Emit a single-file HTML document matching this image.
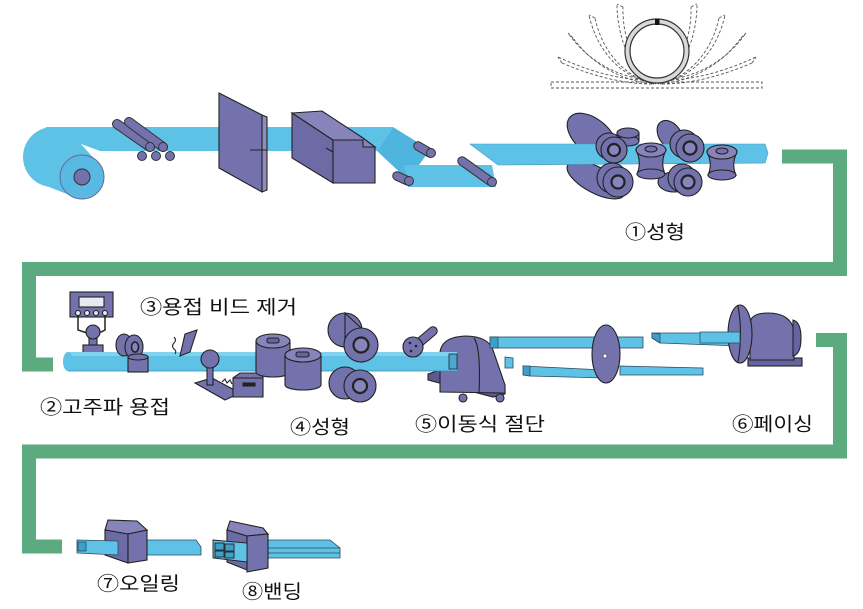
<!DOCTYPE html>
<html><head><meta charset="utf-8"><style>
html,body{margin:0;padding:0;background:#fff;}
svg{display:block;}
text{font-family:"Liberation Sans","Noto Sans CJK KR",sans-serif;font-size:19px;fill:#111;}
</style></head><body>
<svg width="863" height="609" viewBox="0 0 863 609" xmlns="http://www.w3.org/2000/svg">
<rect width="863" height="609" fill="#fff"/>

<!-- green flow lines -->
<g fill="none" stroke="#5bab7f" stroke-width="14" stroke-linejoin="miter">
<polyline points="782,156.5 840,156.5 840,269 29,269 29,364.5 53,364.5"/>
<polyline points="816,340 840,340 840,451.5 29,451.5 29,546.5 62,546.5"/>
</g>

<!-- ring forming diagram -->
<g fill="none" stroke="#555" stroke-width="0.9" stroke-dasharray="3,2">
<rect x="551" y="82" width="211" height="6"/>
<path d="M652,84 C620,84 588,74 562,63"/><path d="M648,80 C616,80 584,69 558,57"/>
<path d="M652,84 C620,80 592,64 573,38"/><path d="M647,80 C615,76 587,60 568,33"/>
<path d="M654,84 C628,78 603,55 595,18"/><path d="M648,82 C622,76 597,52 589,15"/>
<path d="M656,84 C637,74 622,40 623,7"/><path d="M651,83 C632,72 617,38 617,4"/>
<path d="M662,84 C694,84 726,74 752,63"/><path d="M666,80 C698,80 730,69 756,57"/>
<path d="M662,84 C694,80 722,64 741,38"/><path d="M667,80 C699,76 727,60 746,33"/>
<path d="M660,84 C686,78 711,55 719,18"/><path d="M666,82 C692,76 717,52 725,15"/>
<path d="M658,84 C677,74 692,40 691,7"/><path d="M663,83 C682,72 697,38 697,4"/>
<path d="M562,63 L558,57 M573,38 L568,33 M595,18 L589,15 M623,7 L617,4 M752,63 L756,57 M741,38 L746,33 M719,18 L725,15 M691,7 L697,4"/>
</g>
<circle cx="657" cy="51" r="29.5" fill="#fff" stroke="#d9d9d9" stroke-width="5"/>
<circle cx="657" cy="51" r="32" fill="none" stroke="#333" stroke-width="1.2"/>
<circle cx="657" cy="51" r="27" fill="none" stroke="#333" stroke-width="1.2"/>
<rect x="655" y="19" width="4.5" height="6" fill="#111"/>

<!-- TOP ROW -->
<!-- coil -->
<circle cx="53" cy="157" r="30" fill="#5ec2e6"/>
<polygon points="70,132 94.5,159 69.5,195 36,182" fill="#5ec2e6"/>
<polygon points="45,127 393,127 377,151 100,151 70,140" fill="#5ec2e6"/>
<circle cx="82" cy="177" r="22" fill="#58b9e2" stroke="#6a6aa0" stroke-width="1"/>
<circle cx="82" cy="177" r="8" fill="#7472ac" stroke="#333" stroke-width="1"/>
<!-- fold -->
<polygon points="393,127 430,150 408,180 377,151" fill="#4fb5de"/>
<polygon points="404,165 492,165 496,187 408,187" fill="#5ec2e6"/>
<g stroke-linecap="round">
<line x1="418" y1="146" x2="430" y2="153" stroke="#333" stroke-width="9.5"/>
<line x1="418" y1="146" x2="430" y2="153" stroke="#7472ac" stroke-width="7.5"/>
<line x1="397" y1="176" x2="408" y2="181" stroke="#333" stroke-width="9.5"/>
<line x1="397" y1="176" x2="408" y2="181" stroke="#7472ac" stroke-width="7.5"/>
</g>
<circle cx="431" cy="153" r="4.5" fill="#7472ac" stroke="#333"/>
<circle cx="409" cy="181" r="4.5" fill="#7472ac" stroke="#333"/>

<!-- rollers behind upper strip -->
<g stroke="#222" stroke-width="1.1" fill="#7472ac">
<ellipse cx="596" cy="180" rx="32" ry="13" transform="rotate(28 596 180)"/>
<ellipse cx="592" cy="136" rx="29" ry="17" transform="rotate(40 592 136)"/>
<ellipse cx="670" cy="135" rx="16" ry="11" transform="rotate(55 670 135)"/>
<ellipse cx="674" cy="182" rx="16" ry="10"/>
</g>

<!-- upper strip -->
<polygon points="470,144 765,144 768,153 765,163 498,165" fill="#5ec2e6" stroke="#3f98c0" stroke-width="0.6"/>
<g stroke-linecap="round">
<line x1="462" y1="161" x2="490" y2="181" stroke="#333" stroke-width="9.5"/>
<line x1="462" y1="161" x2="490" y2="181" stroke="#7472ac" stroke-width="7.5"/>
</g>
<circle cx="492" cy="182" r="4.5" fill="#7472ac" stroke="#333"/>

<!-- pinch rollers -->
<g stroke-linecap="round">
<line x1="117" y1="124" x2="150" y2="147" stroke="#333" stroke-width="10"/>
<line x1="117" y1="124" x2="150" y2="147" stroke="#7472ac" stroke-width="8"/>
<line x1="129" y1="122" x2="163" y2="147" stroke="#333" stroke-width="10"/>
<line x1="129" y1="122" x2="163" y2="147" stroke="#7472ac" stroke-width="8"/>
</g>
<g fill="#7472ac" stroke="#333">
<circle cx="150" cy="147" r="4.5"/><circle cx="163" cy="147" r="4.5"/>
<circle cx="142" cy="156" r="4.5"/><circle cx="156" cy="156" r="4.5"/><circle cx="170" cy="156" r="4.5"/>
</g>

<!-- shear plate -->
<g stroke="#222" stroke-width="1.1">
<polygon points="219,93 262,115 262,192 219,168" fill="#7472ac"/>
<polygon points="262,115 267,117 267,190 262,192" fill="#8f8dc0"/>
<line x1="250" y1="150" x2="267" y2="150"/>
</g>

<!-- block -->
<g stroke="#222" stroke-width="1.1">
<polygon points="292,113 333,140 333,183 292,158" fill="#6d6ba6"/>
<polygon points="292,113 322,111 363,138 375,147 333,147 333,140" fill="#8684bb"/>
<polygon points="333,140 363,140 363,147 375,147 375,183 333,183" fill="#7472ac"/>
<line x1="326" y1="148" x2="333" y2="152"/>
</g>

<!-- forming roller faces -->
<g stroke="#222" stroke-width="1.1" fill="#7472ac">
<!-- small roller -->
<rect x="617" y="133" width="22" height="8"/>
<ellipse cx="628" cy="141" rx="11" ry="5"/>
<ellipse cx="628" cy="133" rx="11" ry="5"/>
<!-- upper-left face -->
<circle cx="609" cy="146" r="13"/>
<circle cx="614" cy="150" r="13"/>
<circle cx="614" cy="150" r="6" fill="#8684bb" stroke-width="2.2"/>
<!-- lower-left face -->
<circle cx="612" cy="178" r="15"/>
<circle cx="618" cy="182" r="15"/>
<circle cx="618" cy="182" r="6.5" fill="#8684bb" stroke-width="2.2"/>
<!-- spool A -->
<path d="M636,150 Q642,162 637,174 L665,174 Q660,162 666,150 Z"/>
<ellipse cx="651" cy="174" rx="14" ry="5"/>
<ellipse cx="651" cy="150" rx="15" ry="7" fill="#8684bb"/>
<ellipse cx="651" cy="149" rx="6" ry="3"/>
<!-- upper-right face -->
<circle cx="684" cy="144" r="14"/>
<circle cx="690" cy="148" r="14"/>
<circle cx="690" cy="148" r="6.5" fill="#8684bb" stroke-width="2.2"/>
<!-- lower-right face -->
<circle cx="682" cy="178" r="14"/>
<circle cx="688" cy="182" r="14"/>
<circle cx="688" cy="182" r="6.5" fill="#8684bb" stroke-width="2.2"/>
<!-- spool B -->
<path d="M707,152 Q713,164 708,175 L736,175 Q731,164 737,152 Z"/>
<ellipse cx="722" cy="175" rx="14" ry="5"/>
<ellipse cx="722" cy="152" rx="15" ry="7" fill="#8684bb"/>
<ellipse cx="722" cy="151" rx="6" ry="3"/>
</g>

<text x="625" y="238.5" textLength="60" lengthAdjust="spacingAndGlyphs">①성형</text>

<!-- MIDDLE ROW -->
<!-- welder control box -->
<g stroke="#222" stroke-width="1.1">
<rect x="70" y="292" width="43" height="25" fill="#7472ac"/>
<rect x="79" y="297" width="25" height="10" fill="#e9e9f2"/>
<g fill="#e9e9f2"><circle cx="78" cy="313" r="2.5"/><circle cx="87" cy="313" r="2.5"/><circle cx="96" cy="313" r="2.5"/><circle cx="105" cy="313" r="2.5"/></g>
<polyline points="78,315 78,330 87,333" fill="none" stroke-width="1.5"/>
<polyline points="105,315 105,330 99,333" fill="none" stroke-width="1.5"/>
<rect x="89" y="337" width="8" height="9" fill="#7472ac"/>
<circle cx="93" cy="332" r="7" fill="#7472ac"/>
<rect x="83" y="345" width="20" height="8" fill="#7472ac"/>
</g>

<!-- cutter (behind tube) -->
<g stroke="#222" stroke-width="1.1">
<polygon points="428,374 440,370 505,388 505,394 493,397 428,380" fill="#5c5a93"/>
<path d="M440,392 L440,352 Q442,337 465,336 Q488,336 493,350 L505,385 L505,393 Z" fill="#7472ac"/>
<path d="M474,338 Q481,348 479,393" fill="none"/>
<circle cx="463" cy="398" r="4" fill="#7472ac"/>
<circle cx="500" cy="398" r="4" fill="#7472ac"/>
</g>

<!-- bars right of cutter -->
<g stroke="#2a4a60" stroke-width="0.8">
<rect x="490" y="337" width="153" height="11" fill="#5ec2e6"/>
<rect x="490" y="337" width="8" height="11" fill="#3f9fc8"/>
<polygon points="505,357 513,358 513,368 505,368" fill="#5ec2e6"/>
<polygon points="523,366 603,370 605,378 530,376" fill="#5ec2e6"/>
<polygon points="523,366 530,366 530,376 523,375" fill="#3f9fc8"/>
<polygon points="620,366 703,368 703,375 620,375" fill="#5ec2e6"/>
<polygon points="652,333 735,333 740,340 740,346 660,343 652,338" fill="#5ec2e6"/>
<polygon points="652,333 660,334 660,343 652,338" fill="#3f9fc8"/>
</g>
<!-- saw disc -->
<ellipse cx="606" cy="354" rx="14" ry="29" fill="#7472ac" stroke="#222" stroke-width="1.1"/>
<circle cx="605" cy="356" r="2" fill="#fff" stroke="#222" stroke-width="0.6"/>

<!-- facing machine -->
<g stroke="#222" stroke-width="1.1" fill="#7472ac">
<rect x="748" y="358" width="54" height="8" fill="#6664a0"/>
<path d="M750,360 L750,322 Q752,313 768,313 Q790,313 794,330 L794,360 Z"/>
<path d="M793,320 Q801,322 801,338 Q801,354 793,356 Z" fill="#6664a0"/>
<ellipse cx="740" cy="334" rx="12" ry="29"/>
<path d="M738,306 Q743,334 738,362" fill="none"/>
</g>
<polygon points="700,332 740,332 740,343 700,343" fill="#5ec2e6" stroke="#2a4a60" stroke-width="0.8"/>

<!-- tube -->
<rect x="68" y="352" width="389" height="19" fill="#5ec2e6"/>
<rect x="68" y="352" width="389" height="4" fill="#82d2ef"/>
<ellipse cx="68" cy="361.5" rx="5" ry="9.5" fill="#5ec2e6"/>
<line x1="68" y1="371" x2="457" y2="371" stroke="#3a8ab0" stroke-width="0.8"/>
<rect x="449" y="354" width="8" height="15" fill="#4aa8d0" stroke="#222" stroke-width="0.8"/>

<!-- items on tube -->
<g stroke="#222" stroke-width="1.1" fill="#7472ac">
<ellipse cx="124" cy="345" rx="8" ry="11"/>
<ellipse cx="134" cy="347" rx="9" ry="12"/>
<ellipse cx="135" cy="347" rx="3.5" ry="5" fill="#8684bb" stroke-width="1.6"/>
<rect x="128" y="357" width="20" height="15"/>
<ellipse cx="138" cy="357" rx="10" ry="3"/>
<polygon points="185,334 197,330 190,352 180,356"/>
<path d="M174,337 q3,3 0,6 q-3,3 0,6 q3,2 1,5" fill="none"/>
<!-- bead removal stand -->
<polygon points="195,383 212,378 240,393 225,400"/>
<rect x="207" y="366" width="6" height="19"/>
<circle cx="210" cy="359" r="9"/>
<path d="M222,382 l3,-3 l2,4 l3,-3 l2,4" fill="none"/>
<polygon points="233,378 240,373 263,373 263,397 233,397"/>
<line x1="233" y1="378" x2="263" y2="378"/>
<rect x="243" y="383" width="12" height="3" fill="#222"/>
<!-- spools -->
<path d="M256,341 L256,372 A17,5 0 0 0 290,372 L290,341 Z"/>
<ellipse cx="273" cy="341" rx="17" ry="7" fill="#8684bb"/>
<rect x="267" y="338" width="12" height="5" rx="2" fill="#6664a0"/>
<path d="M285,355 L285,385 A18,5 0 0 0 321,385 L321,355 Z"/>
<ellipse cx="303" cy="355" rx="18" ry="7" fill="#8684bb"/>
<rect x="296" y="352" width="13" height="5" rx="2" fill="#6664a0"/>
<!-- big rollers -->
<circle cx="345" cy="383" r="16"/>
<circle cx="360" cy="386" r="16"/>
<circle cx="360" cy="386" r="7" fill="#8684bb" stroke-width="2.2"/>
<circle cx="345" cy="330" r="17"/>
<polygon points="345,313 361,328 361,362 345,347"/>
<circle cx="361" cy="345" r="17"/>
<circle cx="361" cy="345" r="7.5" fill="#8684bb" stroke-width="2.2"/>
<!-- disc with handle -->
</g>
<g stroke-linecap="round">
<line x1="420" y1="342" x2="433" y2="331" stroke="#222" stroke-width="9.5"/>
<line x1="420" y1="342" x2="433" y2="331" stroke="#7472ac" stroke-width="7.5"/>
</g>
<circle cx="413" cy="347" r="10" fill="#7472ac" stroke="#222" stroke-width="1.1"/>
<g fill="#222"><circle cx="410" cy="343" r="1.3"/><circle cx="416" cy="346" r="1.3"/><circle cx="411" cy="351" r="1.3"/></g>

<text x="140" y="313.5" textLength="157" lengthAdjust="spacingAndGlyphs">③용접 비드 제거</text>
<text x="40" y="413.5" textLength="130" lengthAdjust="spacingAndGlyphs">②고주파 용접</text>
<text x="290" y="433.5" textLength="60" lengthAdjust="spacingAndGlyphs">④성형</text>
<text x="415" y="430.5" textLength="130" lengthAdjust="spacingAndGlyphs">⑤이동식 절단</text>
<text x="732" y="430.5" textLength="81" lengthAdjust="spacingAndGlyphs">⑥페이싱</text>

<!-- BOTTOM ROW -->
<!-- oiling -->
<g stroke="#2a4a60" stroke-width="0.8">
<polygon points="147,540 196,540 201,547 201,555 147,555" fill="#5ec2e6"/>
</g>
<g stroke="#222" stroke-width="1.1">
<polygon points="108,520 137,521 147,530 128,534 105,530" fill="#8684bb"/>
<polygon points="105,530 128,534 128,563 105,555" fill="#6d6ba6"/>
<polygon points="128,534 147,530 147,560 128,563" fill="#7472ac"/>
</g>
<g stroke="#2a4a60" stroke-width="0.8">
<polygon points="77,540 118,541 118,555 77,553" fill="#5ec2e6"/>
<rect x="78" y="542" width="8" height="9" fill="#3f9fc8"/>
</g>

<!-- banding -->
<g stroke="#2a4a60" stroke-width="0.8">
<polygon points="267,540 330,540 340,548 340,558 267,558" fill="#5ec2e6"/>
<line x1="267" y1="548" x2="340" y2="548"/>
<line x1="267" y1="553" x2="340" y2="553"/>
</g>
<g stroke="#222" stroke-width="1.1">
<polygon points="230,521 263,528 268,534 247,536 227,530" fill="#8684bb"/>
<polygon points="227,530 247,536 247,570 227,562" fill="#6d6ba6"/>
<polygon points="247,536 268,534 268,568 247,572" fill="#7472ac"/>
</g>
<g stroke="#222" stroke-width="0.9">
<polygon points="213,540 247,543 247,562 213,558" fill="#5ec2e6"/>
<rect x="215" y="543" width="9" height="7" fill="#3f9fc8"/>
<rect x="225" y="544" width="9" height="7" fill="#3f9fc8"/>
<rect x="215" y="551" width="9" height="6" fill="#3f9fc8"/>
<rect x="225" y="552" width="9" height="6" fill="#3f9fc8"/>
</g>

<text x="97" y="590" textLength="83" lengthAdjust="spacingAndGlyphs">⑦오일링</text>
<text x="242" y="598" textLength="60" lengthAdjust="spacingAndGlyphs">⑧밴딩</text>
</svg>
</body></html>
